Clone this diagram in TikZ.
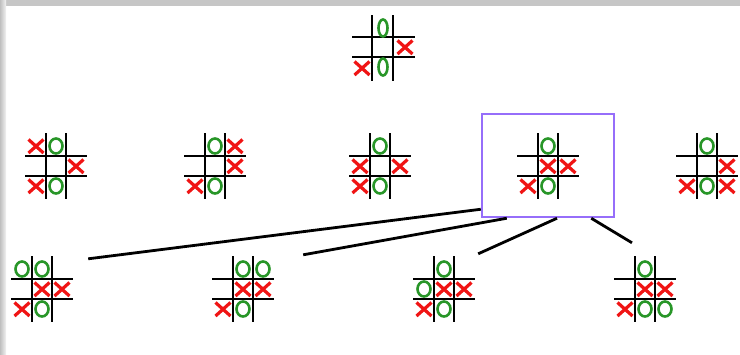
\documentclass[tikz,border=0pt]{standalone}
\usepackage{tikz}

\definecolor{xred}{RGB}{240,20,20}
\definecolor{ogreen}{RGB}{40,150,40}
\definecolor{boxpurple}{RGB}{150,110,250}

\begin{document}
\begin{tikzpicture}[x=1pt,y=-1pt,
    gridline/.style={line width=2.9pt,black},
    xline/.style={line width=3.2pt,xred},
    oline/.style={line width=2.6pt,ogreen},
    board/.style={minimum width=62pt,minimum height=66pt,inner sep=0pt},
    link/.style={line width=2.8pt,black},
    grid/.pic={\draw[gridline] (-31,-10) -- (31,-10) (-31,10) -- (31,10) (-10,-33) -- (-10,33) (10,-33) -- (10,33);},
    xm/.pic={\draw[xline] (-7.5,-6.5) -- (7.5,7) (-7.5,7) -- (7.5,-6.5);},
    om/.pic={\draw[oline] (0,0) ellipse [x radius=6.5,y radius=7.5];},
    thin om/.pic={\draw[oline] (0,0) ellipse [x radius=4.5,y radius=8.5];}]

      \useasboundingbox (0,0) rectangle (740,354);
      \fill[white] (0,0) rectangle (740,354);
      \fill[gray!45] (0,0) rectangle (740,6);
      \shade[left color=gray!50,right color=gray!10] (0,0) rectangle (6,354);

      \node[board] (b0) at (383,47) {};
      \draw[gridline] (352,37) -- (415,37) (352,57) -- (415,57) (372,15) -- (372,81) (393,15) -- (393,81);
      \pic at (383,28) {thin om};
      \pic at (383,67) {thin om};
      \pic at (405,47) {xm};
      \pic at (362,68) {xm};

      \node[board] (b1) at (56,166) {};
      \pic at (b1) {grid};
      \foreach \c/\r in {-1/-1,1/0,-1/1} \pic at ([shift={(20*\c,20*\r)}]b1) {xm};
      \foreach \c/\r in {0/-1,0/1} \pic at ([shift={(20*\c,20*\r)}]b1) {om};

      \node[board] (b2) at (215,166) {};
      \pic at (b2) {grid};
      \foreach \c/\r in {1/-1,1/0,-1/1} \pic at ([shift={(20*\c,20*\r)}]b2) {xm};
      \foreach \c/\r in {0/-1,0/1} \pic at ([shift={(20*\c,20*\r)}]b2) {om};

      \node[board] (b3) at (380,166) {};
      \pic at (b3) {grid};
      \foreach \c/\r in {-1/0,1/0,-1/1} \pic at ([shift={(20*\c,20*\r)}]b3) {xm};
      \foreach \c/\r in {0/-1,0/1} \pic at ([shift={(20*\c,20*\r)}]b3) {om};

      \node[board] (b4) at (548,166) {};
      \pic at (b4) {grid};
      \foreach \c/\r in {0/0,1/0,-1/1} \pic at ([shift={(20*\c,20*\r)}]b4) {xm};
      \foreach \c/\r in {0/-1,0/1} \pic at ([shift={(20*\c,20*\r)}]b4) {om};
      \node[draw=boxpurple,line width=2.5pt,minimum width=132pt,minimum height=103pt] (box) at (548,165.5) {};

      \node[board] (b5) at (707,166) {};
      \pic at (b5) {grid};
      \foreach \c/\r in {1/0,-1/1,1/1} \pic at ([shift={(20*\c,20*\r)}]b5) {xm};
      \foreach \c/\r in {0/-1,0/1} \pic at ([shift={(20*\c,20*\r)}]b5) {om};

      \node[board] (b6) at (42,289) {};
      \pic at (b6) {grid};
      \foreach \c/\r in {0/0,1/0,-1/1} \pic at ([shift={(20*\c,20*\r)}]b6) {xm};
      \foreach \c/\r in {-1/-1,0/-1,0/1} \pic at ([shift={(20*\c,20*\r)}]b6) {om};

      \node[board] (b7) at (243,289) {};
      \pic at (b7) {grid};
      \foreach \c/\r in {0/0,1/0,-1/1} \pic at ([shift={(20*\c,20*\r)}]b7) {xm};
      \foreach \c/\r in {0/-1,1/-1,0/1} \pic at ([shift={(20*\c,20*\r)}]b7) {om};

      \node[board] (b8) at (444,289) {};
      \pic at (b8) {grid};
      \foreach \c/\r in {0/0,1/0,-1/1} \pic at ([shift={(20*\c,20*\r)}]b8) {xm};
      \foreach \c/\r in {0/-1,-1/0,0/1} \pic at ([shift={(20*\c,20*\r)}]b8) {om};

      \node[board] (b9) at (645,289) {};
      \pic at (b9) {grid};
      \foreach \c/\r in {0/0,1/0,-1/1} \pic at ([shift={(20*\c,20*\r)}]b9) {xm};
      \foreach \c/\r in {0/-1,0/1,1/1} \pic at ([shift={(20*\c,20*\r)}]b9) {om};

      \draw[link] ([shift={(0,-9)}]box.south west) -- ([shift={(15,3)}]b6.north east);
      \draw[link] ([shift={(26,0)}]box.south west) -- ([shift={(29,-1)}]b7.north east);
      \draw[link] ([shift={(9,0)}]box.south) -- ([shift={(3,-2)}]b8.north east);
      \draw[link] ([shift={(-24,0)}]box.south east) -- ([shift={(-13,-13)}]b9.north);

    \end{tikzpicture}
\end{document}
